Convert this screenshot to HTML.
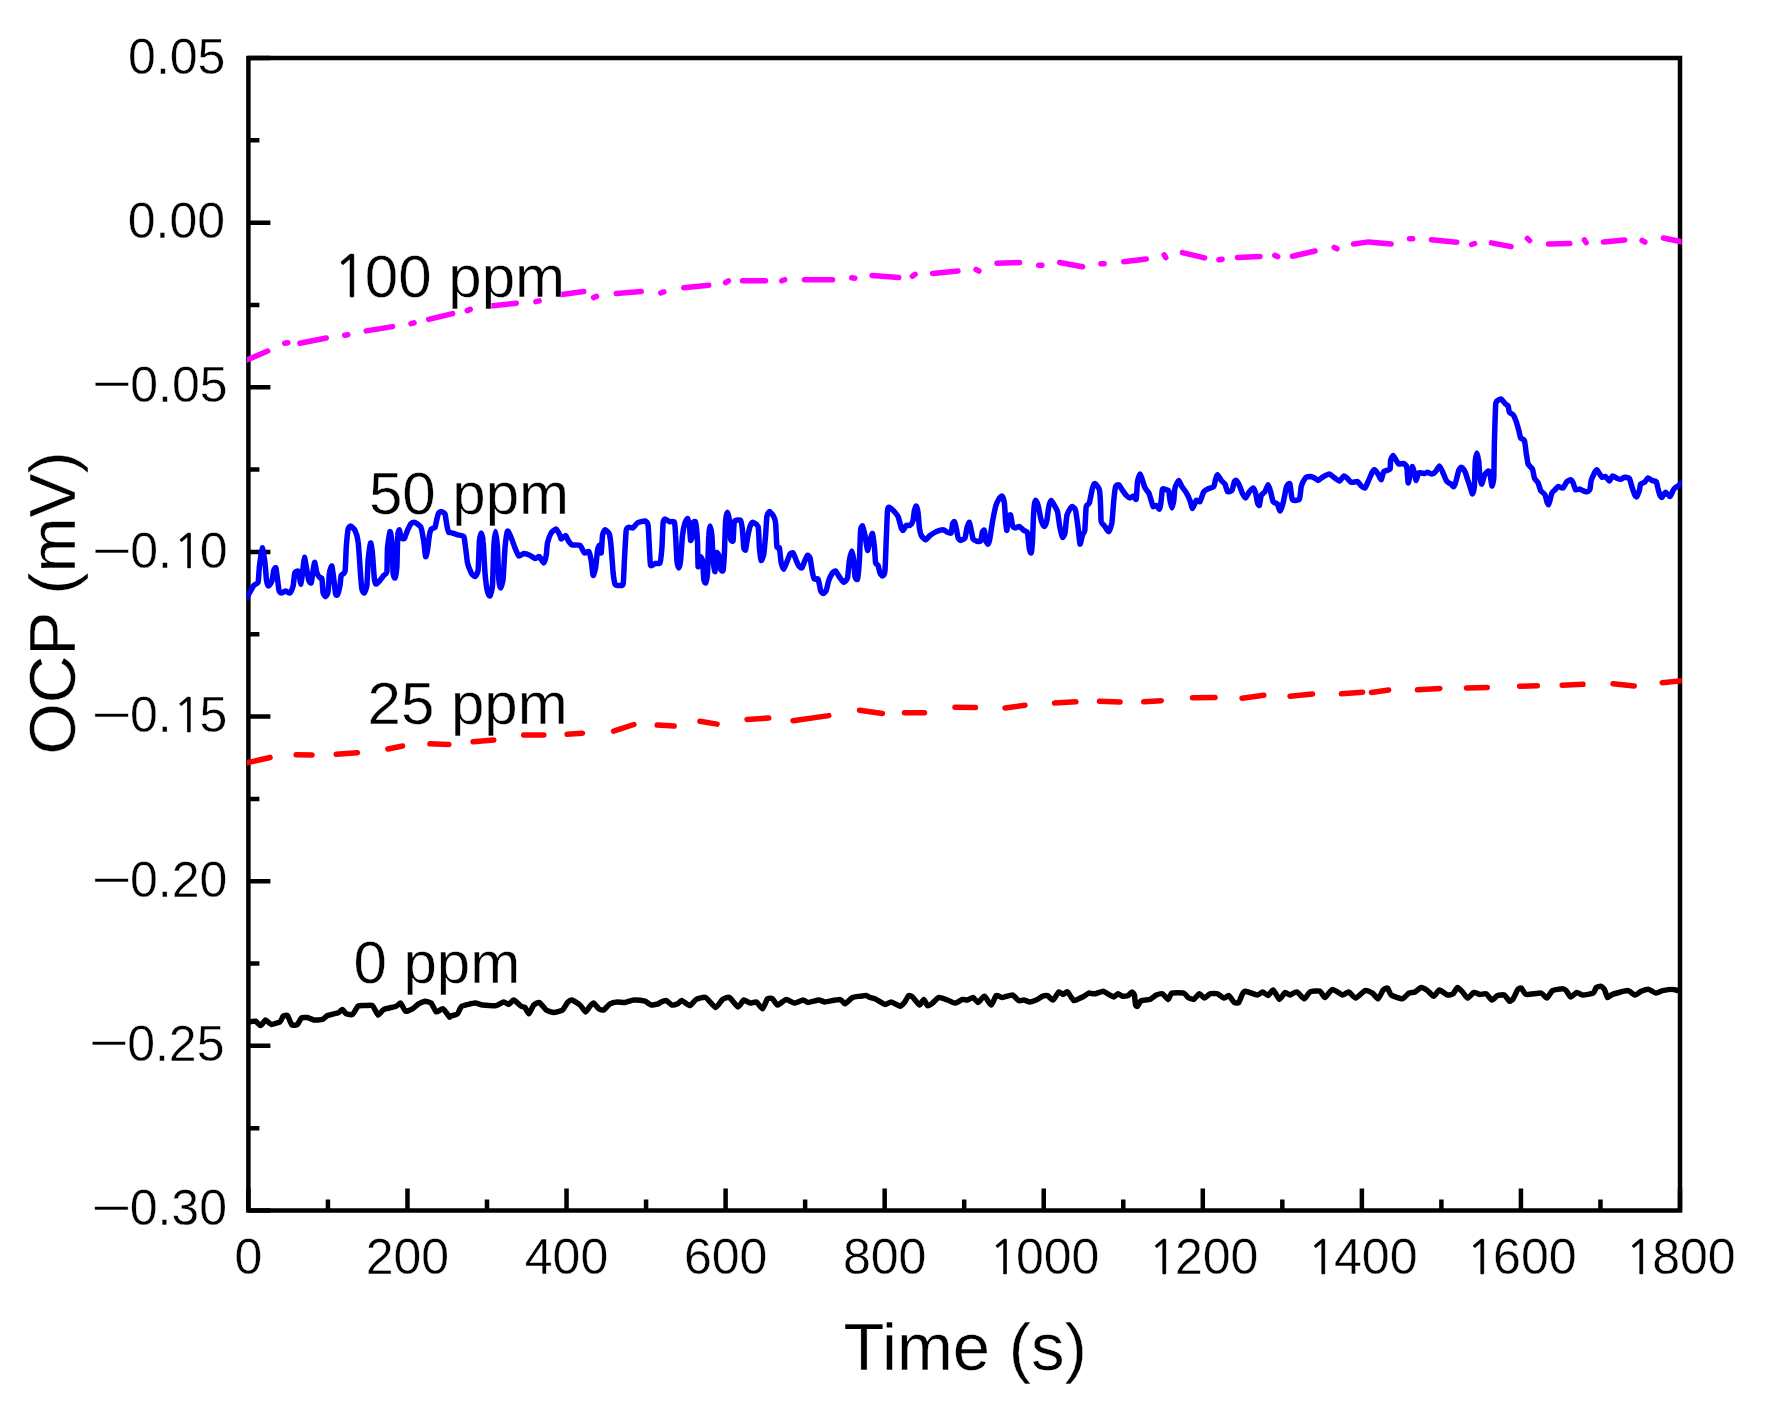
<!DOCTYPE html>
<html lang="en"><head><meta charset="utf-8"><title>OCP vs Time</title>
<style>
html,body{margin:0;padding:0;background:#fff;}
body{width:1768px;height:1419px;overflow:hidden;}
svg{display:block;filter:blur(0.55px);}
text{font-family:"Liberation Sans", Arial, Helvetica, sans-serif;fill:#000;stroke:#fff;stroke-width:0.4px;}
.tl{font-size:50px;}
.al{font-size:66px;}
.an{font-size:60px;}
.one{font-family:"NanumGothic","Liberation Sans",sans-serif;stroke:#000;}
</style></head><body>
<svg width="1768" height="1419" viewBox="0 0 1768 1419">
<rect x="0" y="0" width="1768" height="1419" fill="#fff"/>
<rect x="248.4" y="58.0" width="1431.6" height="1152.5" fill="none" stroke="#000" stroke-width="4.5"/>
<path d="M248.40,1210.5v-22 M327.93,1210.5v-11 M407.47,1210.5v-22 M487.00,1210.5v-11 M566.53,1210.5v-22 M646.07,1210.5v-11 M725.60,1210.5v-22 M805.13,1210.5v-11 M884.67,1210.5v-22 M964.20,1210.5v-11 M1043.73,1210.5v-22 M1123.27,1210.5v-11 M1202.80,1210.5v-22 M1282.33,1210.5v-11 M1361.87,1210.5v-22 M1441.40,1210.5v-11 M1520.93,1210.5v-22 M1600.47,1210.5v-11 M1680.00,1210.5v-22 M248.4,58.00h22 M248.4,140.32h11 M248.4,222.64h22 M248.4,304.96h11 M248.4,387.29h22 M248.4,469.61h11 M248.4,551.93h22 M248.4,634.25h11 M248.4,716.57h22 M248.4,798.89h11 M248.4,881.21h22 M248.4,963.54h11 M248.4,1045.86h22 M248.4,1128.18h11 M248.4,1210.50h22" fill="none" stroke="#000" stroke-width="4.5"/>
<clipPath id="plotclip"><rect x="246.9" y="58.0" width="1434.8" height="1152.5"/></clipPath>
<g fill="none" stroke-linejoin="round" clip-path="url(#plotclip)">
<path d="M245.9,1022.1C246.2,1022.1 247.9,1022.0 248.8,1021.9C249.6,1021.8 254.5,1020.9 255.6,1021.2C256.7,1021.6 259.7,1025.7 260.6,1025.6C261.5,1025.5 264.7,1020.1 265.6,1020.0C266.6,1019.9 269.9,1024.2 271.2,1024.4C272.6,1024.5 278.9,1022.6 280.0,1021.9C281.1,1021.1 282.4,1016.8 283.1,1016.2C283.8,1015.7 286.7,1014.8 287.5,1015.6C288.3,1016.4 291.0,1024.2 291.9,1025.0C292.8,1025.8 296.6,1025.0 297.5,1024.4C298.4,1023.7 300.3,1018.8 301.2,1018.1C302.2,1017.5 306.4,1017.3 307.5,1017.5C308.6,1017.7 312.4,1019.8 313.8,1020.0C315.1,1020.2 321.2,1019.8 322.5,1019.4C323.8,1019.0 326.0,1016.3 327.5,1015.6C329.0,1015.0 337.4,1013.1 338.8,1012.5C340.1,1011.9 341.8,1009.3 342.5,1009.4C343.2,1009.5 345.3,1013.3 346.2,1013.8C347.2,1014.2 351.4,1015.1 352.5,1014.4C353.6,1013.7 357.0,1007.1 358.1,1006.2C359.3,1005.4 363.7,1005.7 365.0,1005.6C366.3,1005.6 371.3,1004.8 372.5,1005.6C373.7,1006.5 377.1,1014.7 378.1,1015.0C379.2,1015.3 382.1,1010.2 383.8,1009.4C385.4,1008.6 394.7,1006.8 396.2,1006.2C397.8,1005.7 399.8,1002.7 400.6,1003.1C401.5,1003.6 404.5,1010.7 405.6,1011.2C406.7,1011.8 411.3,1009.4 412.5,1008.8C413.7,1008.1 417.6,1004.4 418.8,1003.8C419.9,1003.1 423.9,1001.3 425.0,1001.2C426.1,1001.2 430.2,1002.2 431.2,1003.1C432.3,1004.1 435.2,1011.4 436.2,1011.9C437.3,1012.4 441.9,1008.3 443.1,1008.8C444.3,1009.2 448.7,1016.2 449.4,1016.9C450.0,1017.6 449.3,1016.5 450.0,1016.2C450.7,1016.0 456.4,1014.7 457.5,1013.8C458.6,1012.8 460.3,1007.2 461.9,1006.2C463.5,1005.3 473.1,1003.2 475.0,1003.1C476.9,1003.0 480.6,1004.8 482.5,1005.0C484.4,1005.2 494.3,1005.9 496.2,1005.6C498.2,1005.3 502.6,1002.0 503.8,1001.9C504.9,1001.8 507.8,1004.5 508.8,1004.4C509.7,1004.2 512.6,999.8 513.8,1000.0C514.9,1000.2 520.2,1005.6 521.2,1006.2C522.3,1006.9 524.3,1006.8 525.0,1007.5C525.7,1008.2 527.9,1014.0 528.8,1013.8C529.6,1013.5 532.8,1006.0 533.8,1005.0C534.7,1004.0 538.2,1002.0 539.4,1002.5C540.5,1003.0 544.9,1009.1 546.2,1010.0C547.6,1010.9 552.3,1012.5 553.8,1012.5C555.2,1012.5 561.2,1010.9 562.5,1010.0C563.8,1009.1 566.6,1003.4 567.5,1002.5C568.4,1001.6 570.7,999.8 571.9,1000.0C573.0,1000.2 578.7,1003.9 580.0,1005.0C581.3,1006.1 584.7,1011.8 585.6,1011.9C586.5,1012.0 589.3,1007.1 590.0,1006.2C590.7,1005.4 592.9,1002.9 593.8,1003.1C594.6,1003.4 597.8,1008.1 598.8,1008.8C599.7,1009.4 602.7,1010.5 603.8,1010.0C604.8,1009.5 608.7,1004.5 610.0,1003.8C611.3,1003.0 616.1,1002.0 617.5,1001.9C618.9,1001.8 623.5,1002.7 625.0,1002.5C626.5,1002.3 631.9,1000.1 633.8,1000.0C635.6,999.9 643.4,1000.8 645.0,1001.2C646.6,1001.7 650.0,1004.8 651.2,1005.0C652.5,1005.2 657.9,1004.0 658.8,1003.8C659.6,1003.5 659.3,1002.8 660.0,1002.5C660.7,1002.2 665.2,1000.4 666.2,1000.6C667.3,1000.9 670.8,1004.7 671.9,1005.0C672.9,1005.3 676.6,1004.2 677.5,1003.8C678.4,1003.3 680.7,1000.5 681.9,1000.6C683.0,1000.8 688.7,1005.7 690.0,1005.6C691.3,1005.5 694.8,1000.1 696.2,999.4C697.7,998.6 703.8,996.8 705.6,997.5C707.4,998.2 714.1,1007.3 715.6,1007.5C717.2,1007.7 721.2,1000.3 722.5,999.4C723.8,998.5 727.9,996.8 729.4,997.5C730.8,998.2 736.8,1006.6 738.1,1006.9C739.4,1007.1 742.7,1000.3 743.8,1000.0C744.8,999.7 748.9,1003.0 750.0,1003.1C751.1,1003.3 755.1,1001.4 756.2,1001.9C757.4,1002.4 761.5,1009.0 762.5,1008.8C763.5,1008.5 766.6,999.7 767.5,998.8C768.4,997.8 771.6,998.2 772.5,998.8C773.4,999.3 776.2,1004.9 777.5,1005.0C778.8,1005.1 784.7,999.5 786.2,999.4C787.8,999.2 792.8,1003.1 794.4,1003.1C795.9,1003.2 801.9,1000.1 803.1,1000.0C804.4,999.9 806.7,1002.5 808.1,1002.5C809.6,1002.5 817.2,1000.1 818.8,1000.0C820.3,999.9 823.1,1001.9 825.0,1001.9C826.9,1001.8 838.2,999.2 840.0,999.4C841.8,999.5 843.9,1003.9 845.0,1003.8C846.1,1003.6 851.1,998.2 852.5,997.5C853.9,996.8 858.7,996.4 860.0,996.2C861.3,996.1 865.3,995.5 866.2,995.6C867.2,995.7 869.2,997.2 870.0,997.5C870.8,997.8 873.6,998.1 875.0,998.8C876.4,999.4 883.5,1004.1 885.0,1004.4C886.5,1004.7 889.9,1001.7 891.2,1001.9C892.6,1002.0 898.8,1006.2 900.0,1006.2C901.2,1006.3 903.6,1003.5 904.4,1002.5C905.2,1001.5 908.0,996.1 908.8,995.6C909.5,995.1 911.5,996.0 912.5,996.9C913.5,997.7 918.3,1004.8 919.4,1005.0C920.4,1005.2 923.0,999.3 923.8,999.4C924.5,999.4 926.7,1005.3 927.5,1005.6C928.3,1006.0 931.5,1003.9 932.5,1003.1C933.5,1002.4 937.4,997.8 938.8,997.5C940.1,997.2 946.0,999.5 947.5,1000.0C949.0,1000.5 953.6,1003.2 955.0,1003.1C956.4,1003.1 961.4,999.7 962.5,999.4C963.6,999.1 966.5,1000.2 967.5,1000.0C968.5,999.8 972.2,997.3 973.1,997.5C974.1,997.7 977.1,1002.6 978.1,1002.5C979.2,1002.4 983.2,996.0 984.4,996.2C985.6,996.5 990.2,1005.1 991.2,1005.0C992.3,1004.9 995.2,996.3 996.2,995.6C997.3,994.9 1001.0,997.6 1002.5,997.5C1004.0,997.4 1011.0,994.7 1012.5,995.0C1014.0,995.3 1017.7,1000.2 1018.8,1000.6C1019.8,1001.1 1022.7,999.9 1023.8,1000.0C1024.8,1000.1 1028.9,1001.9 1030.0,1001.9C1031.1,1001.9 1035.1,1000.5 1036.2,1000.0C1037.4,999.5 1041.5,996.7 1042.5,996.2C1043.5,995.8 1046.5,995.3 1047.5,995.6C1048.5,996.0 1052.1,1000.3 1053.1,1000.0C1054.2,999.7 1057.8,992.4 1058.8,991.9C1059.7,991.4 1062.3,994.4 1063.1,994.4C1063.9,994.4 1066.5,991.3 1067.5,991.9C1068.5,992.4 1072.6,1000.1 1073.8,1000.6C1074.9,1001.2 1079.0,998.6 1080.0,998.1C1081.0,997.7 1084.2,996.1 1085.0,995.6C1085.8,995.2 1087.8,993.3 1088.8,993.1C1089.7,993.0 1093.7,993.9 1095.0,993.8C1096.3,993.6 1101.9,991.2 1103.1,991.2C1104.4,991.3 1107.8,993.9 1108.8,994.4C1109.7,994.9 1112.9,996.9 1113.8,996.9C1114.6,996.8 1117.3,993.8 1118.1,993.8C1118.9,993.7 1121.6,996.1 1122.5,996.2C1123.4,996.4 1127.3,996.0 1128.1,995.6C1129.0,995.2 1131.3,991.9 1131.9,991.9C1132.4,991.8 1134.0,993.8 1134.4,995.0C1134.7,996.2 1135.3,1004.0 1135.6,1005.0C1135.9,1006.0 1137.0,1006.7 1137.5,1006.2C1138.0,1005.8 1140.1,1001.3 1141.2,1000.6C1142.4,1000.0 1148.6,999.9 1150.0,999.4C1151.4,998.9 1155.1,995.5 1156.2,995.0C1157.4,994.5 1161.4,993.3 1162.5,993.8C1163.6,994.2 1167.3,999.4 1168.1,999.4C1169.0,999.3 1170.4,993.7 1171.9,993.1C1173.3,992.6 1182.3,992.7 1183.8,993.1C1185.2,993.5 1187.2,996.9 1188.1,997.5C1189.0,998.1 1192.7,999.7 1193.8,999.4C1194.8,999.0 1198.4,993.9 1199.4,993.8C1200.3,993.6 1203.4,998.1 1204.4,998.1C1205.3,998.1 1208.8,994.2 1210.0,993.8C1211.2,993.3 1216.2,993.3 1217.5,993.8C1218.8,994.2 1222.7,998.0 1223.8,998.1C1224.8,998.3 1227.8,995.2 1228.8,995.6C1229.7,996.0 1233.5,1001.9 1234.4,1002.5C1235.3,1003.1 1238.0,1003.3 1238.8,1002.5C1239.5,1001.7 1241.9,994.8 1242.5,993.8C1243.1,992.7 1244.2,991.1 1245.6,991.2C1247.0,991.4 1256.0,994.9 1257.5,995.0C1259.0,995.1 1261.5,991.8 1262.5,991.9C1263.5,991.9 1267.2,995.8 1268.1,995.6C1269.1,995.5 1272.1,989.7 1273.1,990.0C1274.2,990.3 1278.3,999.1 1279.4,999.4C1280.5,999.6 1284.0,992.9 1285.0,992.5C1286.0,992.1 1288.9,995.1 1290.0,995.0C1291.1,994.9 1295.6,991.5 1296.9,991.9C1298.2,992.2 1303.2,998.8 1304.4,998.8C1305.6,998.8 1308.6,992.6 1310.0,991.9C1311.4,991.2 1318.6,990.7 1320.0,991.2C1321.4,991.8 1323.9,997.7 1325.0,997.5C1326.1,997.3 1330.9,989.6 1332.5,989.4C1334.1,989.1 1341.0,994.8 1342.5,995.0C1344.0,995.2 1347.5,991.6 1348.8,991.9C1350.0,992.2 1354.1,998.2 1355.6,998.1C1357.1,998.0 1363.5,991.1 1365.0,990.6C1366.5,990.2 1371.3,992.4 1372.5,993.1C1373.7,993.9 1377.2,999.0 1378.1,998.8C1379.1,998.5 1382.3,991.0 1383.1,990.0C1384.0,989.0 1386.8,987.7 1387.5,988.1C1388.2,988.6 1389.9,994.0 1391.2,995.0C1392.6,996.0 1400.9,998.9 1402.5,998.8C1404.1,998.6 1407.6,993.8 1408.8,993.1C1409.9,992.5 1413.9,992.4 1415.0,991.9C1416.1,991.4 1420.1,987.6 1421.2,987.5C1422.4,987.4 1426.4,989.8 1427.5,990.6C1428.6,991.4 1432.7,996.3 1433.8,996.2C1434.8,996.2 1438.1,990.1 1439.4,990.0C1440.6,989.9 1446.2,994.7 1447.5,995.0C1448.8,995.3 1452.2,994.4 1453.1,993.8C1454.0,993.1 1456.6,987.7 1457.5,987.5C1458.4,987.3 1461.6,990.9 1462.5,991.9C1463.4,992.8 1466.5,998.1 1467.5,998.1C1468.5,998.2 1472.6,992.8 1473.8,992.5C1474.9,992.2 1478.9,994.3 1480.0,994.4C1481.1,994.5 1485.2,993.2 1486.2,993.8C1487.3,994.3 1490.8,999.8 1491.9,1000.0C1492.9,1000.2 1496.4,996.1 1497.5,995.6C1498.6,995.2 1503.3,994.5 1504.4,995.0C1505.5,995.5 1508.6,1000.9 1509.4,1001.2C1510.2,1001.6 1512.4,999.8 1513.1,998.8C1513.9,997.7 1516.8,991.0 1517.5,990.0C1518.2,989.0 1520.4,987.7 1521.2,988.1C1522.1,988.5 1524.4,993.9 1526.2,994.4C1528.1,994.8 1539.4,992.8 1541.2,993.1C1543.1,993.5 1545.8,998.4 1546.9,998.1C1547.9,997.9 1551.1,991.5 1552.5,990.6C1553.9,989.8 1561.2,988.8 1562.5,988.8C1563.8,988.8 1565.5,989.9 1566.2,990.6C1567.0,991.4 1569.7,996.7 1570.6,996.9C1571.6,997.0 1575.8,992.7 1576.9,992.5C1578.0,992.3 1581.0,994.9 1582.5,995.0C1584.0,995.1 1591.9,993.8 1593.1,993.1C1594.4,992.4 1595.6,988.1 1596.2,987.5C1596.9,986.9 1599.9,986.1 1600.6,986.2C1601.4,986.4 1603.7,988.3 1604.4,989.4C1605.0,990.4 1606.8,997.0 1607.5,997.5C1608.2,998.0 1610.7,995.0 1612.5,994.4C1614.3,993.7 1625.4,990.6 1627.5,990.6C1629.6,990.7 1633.7,994.9 1635.0,995.0C1636.3,995.1 1640.0,991.8 1641.2,991.2C1642.5,990.7 1647.4,989.2 1648.8,989.4C1650.1,989.5 1654.4,993.0 1655.6,993.1C1656.9,993.2 1660.9,991.0 1662.5,990.6C1664.1,990.3 1671.5,989.3 1673.1,989.4C1674.7,989.4 1679.1,991.0 1680.0,991.2C1680.9,991.5 1682.5,991.9 1682.7,992.0" stroke="#000" stroke-width="5.5"/>
<path d="M245.0,763.2L270.1,757.5 M296.2,754.8L312.0,755.0 M336.2,754.3L357.5,752.7 M387.9,749.0L402.6,746.0 M430.0,743.8L448.8,744.4 M473.0,741.8L493.8,740.0 M523.7,735.0L543.8,735.0 M567.0,734.3L582.5,733.2 M613.6,731.2L633.9,724.5 M657.2,725.1L674.1,726.0 M699.9,721.2L717.1,724.1 M747.0,719.4L768.8,718.1 M793.0,720.7L828.8,715.6 M859.5,710.3L882.5,713.4 M904.5,712.8L924.5,712.8 M955.0,707.3L975.5,707.5 M1005.0,707.9L1025.0,705.3 M1054.5,703.1L1075.9,701.8 M1099.5,701.3L1120.0,701.9 M1143.7,701.8L1161.3,700.7 M1192.5,697.7L1215.0,697.5 M1242.0,698.2L1263.8,695.3 M1290.0,696.3L1312.5,694.0 M1341.4,693.7L1362.7,692.2 M1371.4,692.4L1388.6,690.1 M1417.4,689.8L1439.9,688.4 M1466.5,688.0L1487.3,687.5 M1519.7,686.2L1537.3,685.8 M1562.2,685.2L1583.0,684.3 M1613.0,683.8L1634.3,686.0 M1662.2,682.8L1684.0,680.6" stroke="#ff0000" stroke-width="5.5" stroke-linecap="round"/>
<path d="M245.9,599.1C246.2,598.7 248.0,595.4 248.8,594.1C249.5,592.9 252.9,586.5 253.8,585.4C254.6,584.3 257.6,584.0 258.1,582.3C258.6,580.6 259.0,569.8 259.4,566.6C259.8,563.5 261.7,548.2 262.2,547.9C262.8,547.6 264.6,559.9 265.0,562.9C265.4,565.9 266.2,578.3 266.5,580.4C266.8,582.5 268.0,586.0 268.5,586.0C269.0,586.1 271.4,582.5 271.9,581.0C272.4,579.6 273.4,571.6 273.8,570.4C274.1,569.2 275.5,567.1 275.9,567.9C276.2,568.7 277.2,577.1 277.5,579.1C277.8,581.2 278.7,589.1 279.0,590.4C279.3,591.7 280.6,593.1 281.2,593.1C281.9,593.2 284.8,591.0 285.6,591.0C286.4,591.0 289.3,593.6 290.0,593.1C290.7,592.7 292.7,587.9 293.1,586.0C293.6,584.2 294.3,574.2 294.8,572.9C295.2,571.6 298.0,570.6 298.5,571.6C299.0,572.7 300.3,584.0 300.6,584.1C301.0,584.3 302.2,575.4 302.5,572.9C302.8,570.4 304.0,557.5 304.4,557.3C304.8,557.0 306.5,568.3 306.9,570.4C307.3,572.5 308.3,579.3 308.8,580.4C309.2,581.5 310.8,583.8 311.2,582.9C311.7,582.0 312.8,572.3 313.1,570.4C313.4,568.5 314.4,562.0 314.8,562.3C315.1,562.5 316.4,571.5 316.9,572.9C317.4,574.3 319.5,577.4 320.0,577.9C320.5,578.4 321.6,577.1 321.9,578.5C322.2,579.9 322.8,591.2 323.1,592.9C323.5,594.6 325.2,596.8 325.6,596.6C326.1,596.5 327.8,593.8 328.1,591.6C328.5,589.5 329.0,575.2 329.4,572.9C329.7,570.6 331.5,565.5 331.9,566.0C332.3,566.6 333.4,576.6 333.8,579.1C334.1,581.7 335.3,592.7 335.6,594.1C336.0,595.6 337.1,595.6 337.5,594.8C337.9,594.0 339.7,587.2 340.0,585.4C340.3,583.6 340.8,576.7 341.2,575.4C341.7,574.1 344.5,574.2 345.0,571.6C345.5,569.1 346.0,551.8 346.2,547.9C346.5,544.0 347.7,531.2 348.1,529.1C348.5,527.1 350.0,525.9 350.6,526.0C351.3,526.1 354.3,529.0 355.0,530.4C355.7,531.8 357.7,538.3 358.1,541.6C358.6,545.0 359.7,562.3 360.0,566.6C360.3,571.0 361.5,586.7 361.9,589.1C362.3,591.6 363.9,593.2 364.4,592.9C364.8,592.6 366.5,588.4 366.9,585.4C367.2,582.4 367.8,564.3 368.1,560.4C368.5,556.5 370.2,543.5 370.6,542.9C371.0,542.3 372.2,550.8 372.5,554.1C372.8,557.5 374.0,576.4 374.4,579.1C374.7,581.9 375.7,584.0 376.2,584.1C376.8,584.3 379.3,581.2 380.0,580.4C380.7,579.6 383.1,576.2 383.8,575.4C384.4,574.6 386.5,574.2 386.9,571.6C387.2,569.1 387.2,551.6 387.5,547.9C387.8,544.2 389.6,532.2 390.0,531.6C390.4,531.1 391.6,537.9 391.9,541.6C392.2,545.4 392.8,569.6 393.1,572.9C393.4,576.2 394.7,578.5 395.0,577.9C395.3,577.3 396.6,570.5 396.9,566.6C397.1,562.8 397.5,538.8 397.8,535.4C398.0,532.0 399.1,529.5 399.4,529.8C399.7,530.0 400.8,537.1 401.2,537.9C401.7,538.7 403.8,539.2 404.4,538.5C404.9,537.8 406.9,531.7 407.5,530.4C408.1,529.1 410.1,524.9 410.6,524.1C411.2,523.4 413.1,522.3 413.8,522.3C414.4,522.3 416.8,523.6 417.5,524.1C418.2,524.7 420.7,526.3 421.2,527.9C421.8,529.5 423.3,539.0 423.8,541.6C424.2,544.3 425.3,555.8 425.6,556.6C426.0,557.5 427.2,552.3 427.5,550.4C427.8,548.5 429.0,537.3 429.4,535.4C429.7,533.5 430.7,529.9 431.2,529.1C431.8,528.4 434.5,528.2 435.0,527.3C435.5,526.4 436.5,520.5 436.9,519.1C437.2,517.8 438.3,513.6 438.8,512.9C439.2,512.2 440.7,511.5 441.2,511.6C441.8,511.8 444.5,512.9 445.0,514.1C445.5,515.4 446.5,523.7 446.9,525.4C447.2,527.1 448.5,531.6 448.8,532.3C449.0,532.9 449.2,532.0 450.0,532.3C450.8,532.5 456.2,534.4 457.5,534.8C458.8,535.2 463.0,535.4 463.8,536.6C464.5,537.9 465.3,545.5 465.6,547.9C466.0,550.3 467.0,560.6 467.5,562.9C468.0,565.2 470.6,571.6 471.2,572.9C471.9,574.2 474.4,576.9 475.0,576.6C475.6,576.4 477.7,573.6 478.1,570.4C478.5,567.2 479.1,545.1 479.4,541.6C479.7,538.2 480.9,532.9 481.2,532.9C481.6,532.9 482.8,538.0 483.1,541.6C483.5,545.3 484.6,568.3 485.0,572.9C485.4,577.5 487.0,589.5 487.5,591.6C488.0,593.8 489.5,596.6 490.0,596.0C490.5,595.5 492.2,589.8 492.5,585.4C492.8,581.0 493.5,552.8 493.8,547.9C494.0,543.0 495.3,531.6 495.6,531.6C496.0,531.6 497.2,543.5 497.5,547.9C497.8,552.3 498.5,575.5 498.8,579.1C499.0,582.8 500.2,587.9 500.6,587.9C501.0,587.9 502.7,582.8 503.1,579.1C503.5,575.5 504.6,552.3 505.0,547.9C505.4,543.5 506.9,531.9 507.5,531.0C508.1,530.1 510.6,536.4 511.2,537.9C511.9,539.4 514.3,546.2 515.0,547.9C515.7,549.6 517.9,555.5 518.8,556.0C519.6,556.5 522.7,553.6 523.8,553.5C524.8,553.5 529.0,554.9 530.0,555.4C531.0,555.9 534.1,558.4 535.0,558.5C535.9,558.6 538.6,556.2 539.4,556.6C540.2,557.1 543.1,563.0 543.8,562.9C544.4,562.8 545.9,557.2 546.2,555.4C546.6,553.6 547.0,545.0 547.5,542.9C548.0,540.8 550.4,534.2 551.2,532.9C552.1,531.6 555.4,528.9 556.2,529.1C557.1,529.4 559.5,534.5 560.0,535.4C560.5,536.3 560.7,539.1 561.2,539.1C561.8,539.1 565.0,535.3 565.6,535.4C566.3,535.5 567.6,539.5 568.1,540.4C568.7,541.3 570.8,544.3 571.9,544.8C573.0,545.2 578.9,544.7 580.0,545.4C581.1,546.1 583.6,552.3 584.4,552.9C585.2,553.5 588.1,551.0 588.8,551.6C589.4,552.3 590.8,558.2 591.2,560.4C591.7,562.6 592.7,574.7 593.1,575.4C593.5,576.1 595.2,570.2 595.6,567.9C596.0,565.6 597.2,552.5 597.5,550.4C597.8,548.3 599.0,545.2 599.4,545.4C599.7,545.6 601.0,553.8 601.2,552.9C601.5,552.0 602.2,537.5 602.5,535.4C602.8,533.3 604.4,529.9 605.0,529.8C605.6,529.7 608.8,532.5 609.4,534.1C609.9,535.8 610.9,544.3 611.2,547.9C611.6,551.5 612.8,569.6 613.1,572.9C613.5,576.2 614.5,583.0 615.0,584.1C615.5,585.3 617.4,585.4 618.1,585.4C618.9,585.4 622.6,586.4 623.1,584.1C623.7,581.9 624.1,565.3 624.4,560.4C624.7,555.5 625.8,533.4 626.2,530.4C626.7,527.4 628.1,527.5 628.8,527.3C629.4,527.0 632.3,528.3 633.1,527.9C633.9,527.5 636.4,523.5 637.5,522.9C638.6,522.3 644.0,520.8 645.0,521.0C646.0,521.3 647.7,522.9 648.1,525.4C648.5,527.9 649.1,544.2 649.4,547.9C649.6,551.6 650.1,564.0 650.6,565.4C651.1,566.8 654.1,563.8 655.0,563.5C655.9,563.3 659.4,564.3 660.0,562.9C660.6,561.5 661.6,551.6 661.9,547.9C662.2,544.2 662.8,525.5 663.1,522.9C663.4,520.3 664.4,519.3 665.0,519.1C665.6,519.0 668.5,521.4 669.4,521.6C670.2,521.9 673.8,521.0 674.4,522.3C674.9,523.5 675.4,531.9 675.6,535.4C675.9,538.9 676.6,557.4 676.9,560.4C677.2,563.4 678.4,567.9 678.8,567.9C679.1,567.9 680.3,563.4 680.6,560.4C681.0,557.4 682.1,538.8 682.5,535.4C682.9,532.0 684.5,524.4 685.0,522.9C685.5,521.4 687.1,518.3 687.5,518.5C687.9,518.8 689.1,523.4 689.4,525.4C689.7,527.4 690.3,539.5 690.6,540.4C690.9,541.3 692.3,537.0 692.5,535.4C692.7,533.8 692.8,524.1 693.1,522.9C693.4,521.7 695.2,520.6 695.6,522.3C696.0,524.0 697.3,537.6 697.5,541.6C697.7,545.7 697.9,565.3 698.1,566.6C698.4,568.0 699.6,557.2 700.0,556.6C700.4,556.1 702.2,558.3 702.5,560.4C702.8,562.5 703.5,577.1 703.8,579.1C704.0,581.2 705.3,583.5 705.6,582.9C706.0,582.3 707.2,577.3 707.5,572.9C707.8,568.5 708.5,539.7 708.8,535.4C709.0,531.1 709.7,526.0 710.0,526.0C710.3,526.0 711.6,532.2 711.9,535.4C712.2,538.6 712.8,557.1 713.1,560.4C713.4,563.7 714.7,572.3 715.0,571.6C715.3,571.0 715.9,554.4 716.2,552.9C716.6,551.4 718.3,553.9 718.8,555.4C719.2,556.9 720.2,567.8 720.6,569.1C721.0,570.5 722.8,571.8 723.1,570.4C723.5,569.0 724.1,558.7 724.4,554.1C724.6,549.6 725.3,524.2 725.6,520.4C725.9,516.6 727.2,512.3 727.5,512.3C727.8,512.3 729.1,517.9 729.4,520.4C729.7,522.9 730.3,537.3 730.6,539.1C731.0,541.0 732.8,542.0 733.1,540.4C733.5,538.8 733.7,523.5 734.4,521.6C735.1,519.8 739.9,519.6 740.6,520.4C741.4,521.2 742.2,527.9 742.5,530.4C742.8,532.9 743.5,546.1 743.8,547.9C744.0,549.7 745.3,550.7 745.6,549.8C746.0,548.9 747.1,540.0 747.5,537.9C747.9,535.8 749.5,528.1 750.0,526.6C750.5,525.2 751.8,522.3 752.5,522.3C753.2,522.3 757.5,524.3 758.1,526.6C758.8,529.0 759.1,544.8 759.4,547.9C759.7,551.0 760.8,559.8 761.2,560.4C761.7,561.0 763.3,556.4 763.8,554.1C764.2,551.9 765.3,538.8 765.6,535.4C765.9,532.0 766.5,518.8 766.9,516.6C767.2,514.5 768.8,511.8 769.4,511.6C769.9,511.5 772.6,514.4 773.1,515.4C773.7,516.4 775.3,520.0 775.6,522.9C776.0,525.8 776.5,544.4 776.9,546.6C777.2,548.9 779.0,546.4 779.4,547.9C779.8,549.4 780.8,561.0 781.2,562.9C781.7,564.8 783.2,569.4 783.8,569.1C784.3,568.9 786.9,561.8 787.5,560.4C788.1,559.0 789.5,554.8 790.0,554.1C790.5,553.5 792.6,552.3 793.1,552.9C793.7,553.5 795.7,559.2 796.2,560.4C796.8,561.6 798.2,565.3 798.8,566.0C799.3,566.7 801.3,568.4 801.9,567.9C802.4,567.4 804.5,561.5 805.0,560.4C805.5,559.3 807.0,555.6 807.5,555.4C808.0,555.2 809.5,556.3 810.0,557.9C810.5,559.5 812.1,571.0 812.5,572.9C812.9,574.8 813.9,578.6 814.4,579.1C814.9,579.7 817.6,578.1 818.1,579.1C818.7,580.2 820.2,589.1 820.6,590.4C821.1,591.7 822.6,593.5 823.1,593.5C823.6,593.5 825.7,591.6 826.2,590.4C826.8,589.2 828.2,582.0 828.8,580.4C829.3,578.8 831.9,573.8 832.5,572.9C833.1,572.0 834.9,570.6 835.6,571.0C836.3,571.5 839.3,576.9 840.0,577.9C840.7,578.9 843.1,582.3 843.8,582.3C844.4,582.3 847.0,579.9 847.5,577.9C848.0,575.9 849.0,562.9 849.4,560.4C849.8,557.9 851.5,551.0 851.9,551.0C852.3,551.0 853.5,558.1 853.8,560.4C854.0,562.7 854.7,574.9 855.0,576.6C855.3,578.4 857.1,580.6 857.5,579.1C857.9,577.7 859.1,564.9 859.4,560.4C859.7,555.9 860.3,533.6 860.6,530.4C860.9,527.2 862.1,525.6 862.5,526.0C862.9,526.5 864.5,533.2 865.0,535.4C865.5,537.6 867.0,549.9 867.5,550.4C868.0,550.9 869.5,541.9 870.0,540.4C870.5,538.9 872.1,533.0 872.5,533.5C872.9,534.1 874.1,544.0 874.4,546.6C874.7,549.3 875.3,561.2 875.6,562.9C876.0,564.6 877.7,564.5 878.1,565.4C878.5,566.3 879.6,571.9 880.0,572.9C880.4,573.9 882.0,576.3 882.5,576.0C883.0,575.8 884.7,573.7 885.0,570.4C885.3,567.1 886.0,545.9 886.2,540.4C886.5,534.9 887.2,513.4 887.5,510.4C887.8,507.4 888.8,507.2 889.4,507.3C889.9,507.3 892.9,510.2 893.8,511.0C894.6,511.9 897.4,515.1 898.1,516.6C898.8,518.2 900.8,526.6 901.2,527.9C901.7,529.2 902.7,530.6 903.1,530.4C903.6,530.2 905.6,525.9 906.2,525.4C906.9,524.9 909.4,525.9 910.0,525.4C910.6,524.9 912.7,521.8 913.1,520.4C913.5,519.0 914.1,511.7 914.4,510.4C914.7,509.1 915.9,505.8 916.2,506.0C916.6,506.3 917.8,510.9 918.1,512.9C918.4,514.9 919.1,525.8 919.4,527.9C919.7,530.0 920.7,534.3 921.2,535.4C921.8,536.5 924.8,539.8 925.6,539.8C926.4,539.8 929.0,536.1 930.0,535.4C931.0,534.7 935.0,532.2 936.2,531.6C937.5,531.1 942.1,529.7 943.1,529.8C944.2,529.8 946.8,532.0 947.5,532.3C948.2,532.6 950.8,533.6 951.2,532.9C951.7,532.2 952.2,525.2 952.5,524.1C952.8,523.1 954.0,521.3 954.4,521.6C954.7,522.0 955.9,526.4 956.2,527.9C956.6,529.4 957.7,536.8 958.1,537.9C958.5,539.0 960.0,540.4 960.6,540.4C961.3,540.4 964.4,539.0 965.0,537.9C965.6,536.8 966.5,529.3 966.9,527.9C967.3,526.5 969.0,522.0 969.4,522.3C969.8,522.5 970.9,528.9 971.2,530.4C971.6,531.9 972.7,538.2 973.1,539.1C973.6,540.1 975.6,540.9 976.2,541.0C976.9,541.2 980.1,541.9 980.6,541.0C981.2,540.2 982.2,532.6 982.5,531.6C982.8,530.7 984.1,529.6 984.4,530.4C984.7,531.2 985.3,539.1 985.6,540.4C986.0,541.7 987.7,544.4 988.1,544.1C988.5,543.9 989.6,540.0 990.0,537.9C990.4,535.8 992.0,524.5 992.5,521.6C993.0,518.8 995.1,508.7 995.6,506.6C996.2,504.6 998.2,500.1 998.8,499.1C999.3,498.2 1001.4,495.7 1001.9,496.0C1002.4,496.4 1004.0,500.6 1004.4,502.9C1004.7,505.2 1005.4,519.1 1005.6,521.6C1005.9,524.2 1006.6,530.7 1006.9,530.4C1007.1,530.1 1007.8,519.3 1008.1,517.9C1008.5,516.5 1010.2,514.1 1010.6,514.8C1011.0,515.5 1012.1,524.2 1012.5,525.4C1012.9,526.6 1014.4,527.8 1015.0,527.9C1015.6,528.0 1018.6,526.4 1019.4,526.6C1020.2,526.9 1023.0,529.8 1023.8,530.4C1024.5,531.0 1027.0,531.2 1027.5,532.9C1028.0,534.6 1029.0,547.3 1029.4,549.1C1029.7,551.0 1031.0,553.7 1031.2,552.9C1031.5,552.1 1032.3,544.3 1032.5,540.4C1032.7,536.5 1033.5,514.1 1033.8,510.4C1034.0,506.7 1035.2,500.9 1035.6,500.4C1036.0,499.9 1037.6,503.6 1038.1,505.4C1038.6,507.2 1040.7,518.5 1041.2,520.4C1041.8,522.3 1043.9,526.6 1044.4,526.6C1044.9,526.6 1046.5,522.2 1046.9,520.4C1047.3,518.6 1048.3,508.5 1048.8,506.6C1049.2,504.8 1050.7,500.5 1051.2,500.4C1051.8,500.3 1053.8,504.4 1054.4,505.4C1054.9,506.4 1057.0,509.6 1057.5,511.6C1058.0,513.7 1059.5,525.6 1060.0,527.9C1060.5,530.2 1062.0,536.8 1062.5,537.3C1063.0,537.7 1064.6,534.9 1065.0,532.9C1065.4,530.9 1066.4,517.7 1066.9,515.4C1067.4,513.1 1070.1,508.7 1070.6,507.9C1071.1,507.1 1072.0,506.4 1072.5,506.6C1073.0,506.9 1075.1,508.5 1075.6,510.4C1076.1,512.3 1077.7,524.8 1078.1,527.9C1078.5,531.0 1079.6,543.5 1080.0,544.1C1080.4,544.8 1082.1,536.0 1082.5,534.8C1082.9,533.5 1084.4,533.0 1084.8,530.4C1085.1,527.8 1085.8,509.2 1086.2,506.6C1086.7,504.1 1088.8,504.6 1089.4,502.9C1089.9,501.2 1092.0,489.7 1092.5,487.9C1093.0,486.1 1094.4,483.4 1095.0,483.5C1095.6,483.7 1098.9,487.7 1099.4,489.8C1099.9,491.9 1100.5,503.7 1100.6,506.6C1100.8,509.6 1100.8,519.8 1101.2,521.6C1101.7,523.5 1104.3,525.7 1105.0,526.6C1105.7,527.6 1108.1,532.0 1108.8,531.6C1109.4,531.3 1111.4,525.8 1111.9,522.9C1112.3,520.0 1113.4,503.7 1113.8,500.4C1114.1,497.1 1115.2,488.1 1115.6,486.6C1116.1,485.2 1118.1,484.4 1118.8,484.8C1119.4,485.1 1121.8,489.4 1122.5,490.4C1123.2,491.4 1125.6,494.7 1126.2,495.4C1126.9,496.1 1129.3,497.8 1130.0,497.9C1130.7,498.0 1133.2,495.9 1133.8,496.0C1134.3,496.1 1135.9,500.5 1136.2,499.1C1136.6,497.8 1137.2,483.9 1137.5,481.6C1137.8,479.4 1139.5,474.3 1140.0,474.1C1140.5,474.0 1142.0,479.1 1142.5,480.4C1143.0,481.7 1144.4,486.8 1145.0,487.9C1145.6,489.0 1148.2,491.8 1148.8,492.9C1149.3,494.0 1150.8,499.1 1151.2,500.4C1151.7,501.7 1152.7,506.2 1153.1,506.6C1153.6,507.1 1155.7,505.2 1156.2,505.4C1156.8,505.6 1158.9,509.6 1159.4,509.1C1159.8,508.7 1161.0,502.2 1161.2,500.4C1161.5,498.6 1162.0,490.1 1162.5,489.1C1163.0,488.2 1165.7,489.6 1166.2,489.8C1166.8,489.9 1168.4,490.1 1168.8,491.0C1169.1,492.0 1169.7,498.9 1170.0,500.4C1170.3,501.9 1171.5,507.9 1171.9,507.9C1172.2,507.9 1173.5,502.2 1173.8,500.4C1174.0,498.6 1174.5,489.7 1175.0,487.9C1175.5,486.1 1178.1,480.5 1178.8,480.4C1179.4,480.3 1181.2,485.6 1181.9,486.6C1182.5,487.7 1184.9,490.4 1185.6,491.6C1186.4,492.9 1189.4,498.9 1190.0,500.4C1190.6,501.9 1191.9,508.5 1192.5,508.5C1193.1,508.5 1195.6,501.0 1196.2,500.4C1196.9,499.8 1199.3,502.5 1200.0,501.6C1200.7,500.8 1202.9,492.9 1203.8,491.6C1204.6,490.4 1207.8,489.0 1208.8,488.5C1209.7,488.1 1213.1,487.5 1213.8,486.6C1214.4,485.8 1215.3,480.2 1215.6,479.1C1216.0,478.1 1217.0,474.7 1217.5,474.8C1218.0,474.9 1220.6,479.5 1221.2,480.4C1221.9,481.3 1224.4,483.1 1225.0,484.1C1225.6,485.2 1226.9,491.1 1227.5,491.6C1228.1,492.2 1231.2,491.3 1231.9,490.4C1232.5,489.5 1234.0,482.6 1234.4,481.6C1234.8,480.7 1235.8,480.1 1236.2,480.4C1236.7,480.7 1238.8,484.2 1239.4,485.4C1239.9,486.6 1241.9,492.4 1242.5,493.5C1243.1,494.7 1245.0,498.1 1245.6,497.9C1246.3,497.7 1248.7,492.6 1249.4,491.6C1250.1,490.7 1252.6,487.8 1253.1,487.9C1253.7,488.0 1255.2,491.5 1255.6,492.9C1256.0,494.3 1257.2,501.8 1257.5,502.9C1257.8,504.0 1259.0,506.1 1259.4,505.4C1259.7,504.7 1260.7,496.7 1261.2,495.4C1261.8,494.1 1264.4,492.6 1265.0,491.6C1265.6,490.7 1267.6,484.8 1268.1,484.8C1268.6,484.8 1270.2,490.1 1270.6,491.6C1271.1,493.2 1272.5,500.5 1273.1,501.6C1273.8,502.8 1276.9,503.3 1277.5,504.1C1278.1,505.0 1279.5,511.1 1280.0,511.0C1280.5,510.9 1282.6,505.0 1283.1,502.9C1283.7,500.8 1285.8,489.6 1286.2,487.9C1286.7,486.2 1287.8,484.5 1288.1,484.1C1288.5,483.8 1289.7,482.9 1290.0,484.1C1290.3,485.4 1291.5,496.4 1291.9,497.9C1292.2,499.4 1293.1,500.3 1293.8,500.4C1294.4,500.5 1298.7,500.4 1299.4,499.1C1300.1,497.9 1300.9,488.3 1301.2,486.6C1301.6,485.0 1302.7,482.5 1303.1,481.6C1303.6,480.8 1305.6,477.7 1306.2,477.3C1306.9,476.8 1309.9,476.6 1310.6,476.6C1311.4,476.7 1313.7,477.6 1314.4,477.9C1315.1,478.2 1317.4,480.5 1318.1,480.4C1318.9,480.3 1321.5,477.8 1322.5,477.3C1323.5,476.7 1328.3,474.1 1329.4,474.1C1330.4,474.1 1332.8,476.6 1333.8,477.3C1334.7,477.9 1338.5,481.1 1339.4,481.0C1340.3,480.9 1343.1,476.3 1343.8,476.0C1344.4,475.7 1346.2,477.3 1346.9,477.9C1347.6,478.5 1350.3,481.9 1351.2,482.3C1352.2,482.6 1356.6,481.3 1357.5,481.6C1358.4,482.0 1360.6,485.5 1361.2,486.0C1361.9,486.6 1364.4,488.3 1365.0,487.9C1365.6,487.5 1367.5,483.0 1368.1,481.6C1368.8,480.3 1371.3,474.0 1371.9,472.9C1372.4,471.8 1373.8,469.7 1374.4,469.8C1374.9,469.9 1377.5,473.2 1378.1,474.1C1378.8,475.1 1380.7,480.0 1381.2,479.8C1381.8,479.5 1382.9,472.6 1383.8,471.6C1384.6,470.7 1389.4,470.2 1390.0,469.1C1390.6,468.1 1390.3,461.7 1390.6,460.4C1390.9,459.1 1392.6,455.4 1393.1,455.4C1393.6,455.4 1395.7,459.6 1396.2,460.4C1396.8,461.2 1398.1,463.9 1398.8,464.1C1399.4,464.4 1403.0,463.2 1403.8,463.5C1404.5,463.9 1406.5,466.1 1406.9,467.9C1407.3,469.7 1407.8,482.4 1408.1,482.9C1408.5,483.4 1410.2,474.4 1410.6,472.9C1411.0,471.4 1412.1,466.4 1412.5,466.6C1412.9,466.9 1414.7,474.1 1415.0,475.4C1415.3,476.7 1415.9,480.6 1416.2,480.4C1416.6,480.2 1417.9,473.5 1418.8,472.9C1419.6,472.3 1424.2,473.6 1425.0,473.5C1425.8,473.5 1426.9,472.2 1427.5,472.3C1428.1,472.3 1431.1,474.2 1431.9,474.1C1432.6,474.1 1434.9,472.4 1435.6,471.6C1436.3,470.9 1438.7,466.0 1439.4,466.0C1440.0,466.0 1441.9,470.3 1442.5,471.6C1443.1,473.0 1445.7,479.4 1446.2,480.4C1446.8,481.4 1448.3,482.6 1448.8,482.9C1449.2,483.2 1450.8,483.8 1451.2,484.1C1451.7,484.5 1453.3,487.0 1453.8,486.6C1454.2,486.3 1455.8,481.9 1456.2,480.4C1456.7,478.9 1458.3,471.6 1458.8,470.4C1459.2,469.2 1460.7,467.2 1461.2,467.3C1461.8,467.4 1464.4,470.6 1465.0,471.6C1465.6,472.7 1467.0,477.8 1467.5,479.1C1468.0,480.5 1469.5,485.3 1470.0,486.6C1470.5,488.0 1472.1,494.1 1472.5,494.1C1472.9,494.1 1474.1,489.6 1474.4,486.6C1474.6,483.7 1475.0,464.7 1475.2,461.6C1475.5,458.6 1476.6,452.9 1476.9,452.9C1477.2,452.9 1478.5,459.4 1478.8,461.6C1479.0,463.9 1479.7,475.8 1480.0,477.9C1480.3,480.0 1481.5,484.4 1481.9,484.1C1482.3,483.9 1483.8,476.6 1484.4,475.4C1484.9,474.2 1487.6,471.3 1488.1,471.0C1488.6,470.8 1489.7,471.5 1490.0,472.9C1490.3,474.3 1491.5,485.6 1491.9,486.0C1492.2,486.5 1493.5,481.9 1493.8,477.9C1494.0,473.9 1494.2,449.5 1494.4,442.9C1494.5,436.3 1495.4,409.2 1495.6,405.4C1495.9,401.6 1496.4,401.6 1496.9,401.0C1497.4,400.5 1500.5,398.9 1501.2,399.1C1502.0,399.4 1504.4,402.9 1505.0,403.5C1505.6,404.2 1507.7,405.2 1508.1,406.0C1508.5,406.8 1508.9,411.5 1509.4,412.3C1509.8,413.1 1512.5,413.9 1513.1,414.8C1513.8,415.6 1515.7,420.2 1516.2,421.6C1516.8,423.1 1518.3,428.9 1518.8,430.4C1519.2,431.9 1520.1,437.0 1520.6,437.9C1521.1,438.8 1523.9,439.0 1524.4,440.4C1524.9,441.8 1525.9,450.7 1526.2,452.9C1526.6,455.1 1527.6,462.7 1528.1,464.1C1528.7,465.6 1531.9,467.9 1532.5,469.1C1533.1,470.4 1533.9,476.6 1534.4,477.9C1534.9,479.2 1537.6,481.8 1538.1,482.9C1538.7,484.0 1540.0,489.3 1540.6,490.4C1541.3,491.5 1544.4,493.7 1545.0,494.8C1545.6,495.8 1546.6,500.7 1546.9,501.6C1547.2,502.6 1548.2,504.9 1548.5,504.8C1548.8,504.7 1549.7,501.5 1550.0,500.4C1550.3,499.3 1551.4,493.9 1551.9,492.9C1552.3,491.9 1554.4,490.3 1555.0,489.8C1555.6,489.2 1557.4,486.8 1558.1,486.6C1558.9,486.5 1562.3,488.4 1563.1,487.9C1563.9,487.4 1566.2,482.4 1566.9,481.6C1567.6,480.9 1570.1,479.7 1570.6,479.8C1571.2,479.9 1572.7,482.0 1573.1,482.9C1573.6,483.8 1575.0,489.2 1575.6,489.8C1576.3,490.3 1579.3,489.0 1580.0,489.1C1580.7,489.3 1583.1,490.8 1583.8,491.0C1584.4,491.3 1586.9,491.8 1587.5,491.6C1588.1,491.5 1589.7,490.2 1590.0,489.1C1590.3,488.1 1590.8,481.9 1591.2,480.4C1591.7,478.9 1593.9,473.9 1594.4,472.9C1594.9,471.9 1596.4,469.7 1596.9,469.8C1597.3,469.8 1598.9,472.8 1599.4,473.5C1599.8,474.2 1601.3,477.0 1601.9,477.3C1602.4,477.6 1604.9,476.3 1605.6,476.6C1606.3,477.0 1608.7,481.1 1609.4,481.0C1610.0,481.0 1611.8,476.3 1612.5,476.0C1613.2,475.8 1616.7,478.2 1617.5,478.5C1618.3,478.8 1620.6,479.3 1621.2,479.1C1621.9,479.0 1623.6,477.3 1624.4,477.3C1625.1,477.2 1628.7,477.7 1629.4,478.5C1630.1,479.4 1631.4,485.1 1631.9,486.6C1632.4,488.2 1634.5,494.5 1635.0,495.4C1635.5,496.3 1636.5,497.1 1636.9,496.6C1637.3,496.2 1639.0,491.5 1639.4,490.4C1639.7,489.3 1640.2,484.9 1640.6,484.1C1641.1,483.4 1643.7,482.8 1644.4,482.3C1645.1,481.7 1647.4,478.1 1648.1,477.9C1648.8,477.7 1651.1,480.1 1651.9,480.4C1652.6,480.7 1655.7,480.8 1656.2,481.6C1656.8,482.5 1657.8,487.9 1658.1,489.1C1658.5,490.4 1659.7,494.7 1660.0,495.4C1660.3,496.1 1661.4,497.6 1661.9,497.3C1662.4,497.0 1664.9,492.3 1665.6,492.3C1666.4,492.2 1669.3,496.8 1670.0,496.6C1670.7,496.5 1672.7,491.2 1673.1,490.4C1673.6,489.6 1674.5,488.4 1675.0,487.9C1675.5,487.4 1678.3,485.8 1678.8,485.4C1679.2,485.0 1679.9,484.3 1680.2,483.9C1680.6,483.5 1682.5,481.7 1682.7,481.4" stroke="#0000ff" stroke-width="5.5"/>
<path d="M245.0,360.7L267.7,351.0 M299.9,343.3L326.3,338.0 M366.2,330.9L392.6,326.6 M428.7,319.4L452.6,313.6 M490.0,306.0L516.3,303.3 M560.0,294.7L583.8,291.6 M616.2,293.5L641.3,291.5 M683.7,287.8L708.8,285.2 M742.5,280.8L765.5,280.8 M804.5,279.8L832.5,279.8 M872.0,275.4L898.8,277.6 M932.5,273.5L958.0,271.0 M997.0,263.2L1019.5,262.6 M1059.6,262.5L1082.6,266.8 M1123.7,261.7L1146.3,259.0 M1182.4,252.6L1204.6,257.9 M1237.5,257.4L1260.0,256.4 M1292.4,256.2L1315.1,251.0 M1353.6,244.0L1368.6,241.9L1391.1,244.0 M1431.4,239.7L1456.8,242.3 M1491.4,242.9L1511.1,246.6 M1548.5,244.0L1569.8,243.5 M1603.5,242.0L1624.8,240.0 M1663.4,238.0L1684.0,242.3 M284.7,343.3L287.8,342.7 M344.7,335.3L347.8,334.7 M411.0,323.7L414.0,322.8 M467.3,310.6L470.2,309.4 M535.9,301.6L539.1,300.9 M593.5,297.6L596.5,296.4 M660.8,292.8L663.8,291.8 M725.6,282.6L728.4,280.9 M781.8,280.8L784.7,279.7 M851.7,277.8L854.8,278.2 M912.4,276.2L915.1,274.3 M976.1,269.5L978.9,271.0 M1038.7,265.3L1041.9,265.3 M1100.9,263.8L1104.1,263.8 M1164.2,254.9L1165.8,257.6 M1218.9,259.8L1222.1,259.2 M1274.8,255.4L1277.7,256.6 M1334.2,247.4L1337.0,248.8 M1409.5,238.8L1412.7,238.8 M1471.6,244.5L1474.6,243.5 M1527.4,238.4L1529.6,240.6 M1584.4,239.9L1586.1,242.6 M1642.1,240.5L1644.9,242.0" stroke="#ff00ff" stroke-width="5.5" stroke-linecap="round"/>
</g>
<text class="tl" x="234.50" y="1273.5">0</text>
<text class="tl" x="365.75" y="1273.5">200</text>
<text class="tl" x="524.82" y="1273.5">400</text>
<text class="tl" x="683.89" y="1273.5">600</text>
<text class="tl" x="842.95" y="1273.5">800</text>
<text class="tl"><tspan class="one" x="989.32" y="1273.5" font-size="47.25" stroke-width="0.40">1</tspan><tspan x="1015.92" y="1273.5">000</tspan></text>
<text class="tl"><tspan class="one" x="1148.38" y="1273.5" font-size="47.25" stroke-width="0.40">1</tspan><tspan x="1174.99" y="1273.5">200</tspan></text>
<text class="tl"><tspan class="one" x="1307.45" y="1273.5" font-size="47.25" stroke-width="0.40">1</tspan><tspan x="1334.06" y="1273.5">400</tspan></text>
<text class="tl"><tspan class="one" x="1466.52" y="1273.5" font-size="47.25" stroke-width="0.40">1</tspan><tspan x="1493.12" y="1273.5">600</tspan></text>
<text class="tl"><tspan class="one" x="1625.58" y="1273.5" font-size="47.25" stroke-width="0.40">1</tspan><tspan x="1652.19" y="1273.5">800</tspan></text>
<text class="tl" x="128.08" y="73.5">0.05</text>
<text class="tl" x="127.78" y="237.7">0.00</text>
<text class="tl"><tspan x="91.50" y="401.2" textLength="40.29" lengthAdjust="spacingAndGlyphs">−</tspan><tspan x="130.28" y="401.5">0.05</tspan></text>
<text class="tl"><tspan x="91.50" y="567.9" textLength="40.29" lengthAdjust="spacingAndGlyphs">−</tspan><tspan x="130.28" y="568.2">0.</tspan><tspan class="one" x="173.18" y="568.2" font-size="47.25" stroke-width="0.40">1</tspan><tspan x="199.79" y="568.2">0</tspan></text>
<text class="tl"><tspan x="91.20" y="731.5" textLength="40.29" lengthAdjust="spacingAndGlyphs">−</tspan><tspan x="129.98" y="731.8">0.</tspan><tspan class="one" x="172.88" y="731.8" font-size="47.25" stroke-width="0.40">1</tspan><tspan x="199.49" y="731.8">5</tspan></text>
<text class="tl"><tspan x="91.20" y="896.6" textLength="40.29" lengthAdjust="spacingAndGlyphs">−</tspan><tspan x="129.98" y="896.9">0.20</tspan></text>
<text class="tl"><tspan x="88.40" y="1060.4" textLength="40.29" lengthAdjust="spacingAndGlyphs">−</tspan><tspan x="127.18" y="1060.7">0.25</tspan></text>
<text class="tl"><tspan x="90.90" y="1224.5" textLength="40.29" lengthAdjust="spacingAndGlyphs">−</tspan><tspan x="129.68" y="1224.8">0.30</tspan></text>
<text class="al" transform="translate(965.2,1370) scale(1.016,1.006)" text-anchor="middle">Time (s)</text>
<text class="al" transform="translate(75,603) rotate(-90) scale(1,0.977)" text-anchor="middle">OCP (mV)</text>
<text class="an"><tspan class="one" x="332.94" y="296.5" font-size="56.70" stroke-width="0.48">1</tspan><tspan x="364.87" y="296.5">00 ppm</tspan></text>
<text class="an" x="368.9" y="513.5">50 ppm</text>
<text class="an" x="367.6" y="724.4">25 ppm</text>
<text class="an" x="353.4" y="983">0 ppm</text>
</svg>
</body></html>
